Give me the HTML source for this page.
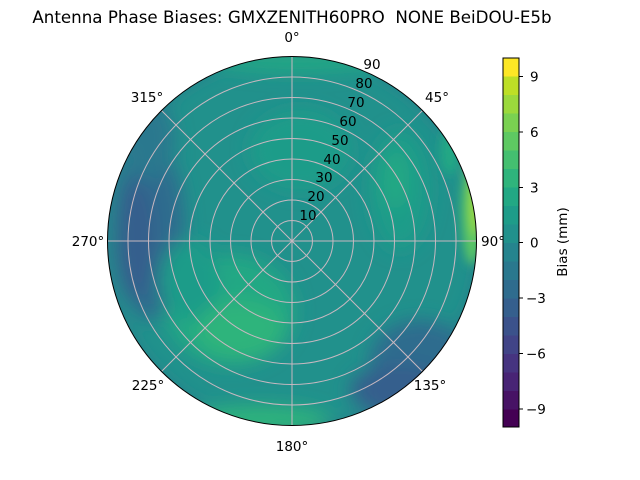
<!DOCTYPE html>
<html><head><meta charset="utf-8"><style>
html,body{margin:0;padding:0;background:#fff;}
svg{display:block;font-family:"DejaVu Sans","Liberation Sans",sans-serif;}
</style></head><body>
<svg width="640" height="480" viewBox="0 0 640 480" xmlns="http://www.w3.org/2000/svg">
<defs>
<clipPath id="c"><circle cx="292" cy="241" r="184.5"/></clipPath>
<filter id="b" x="-50%" y="-50%" width="200%" height="200%"><feGaussianBlur stdDeviation="9"/></filter>
<filter id="b2" x="-50%" y="-50%" width="200%" height="200%"><feGaussianBlur stdDeviation="5"/></filter>
</defs>
<text x="292" y="23" font-size="16.7" text-anchor="middle" xml:space="preserve">Antenna Phase Biases: GMXZENITH60PRO  NONE BeiDOU-E5b</text>
<g clip-path="url(#c)">
<rect x="100" y="50" width="390" height="390" fill="#21918c"/>
<g filter="url(#b)">
<circle cx="292" cy="241" r="200" fill="none" stroke="#2a788e" stroke-width="22"/>
<ellipse cx="150" cy="230" rx="35" ry="90" fill="#2f6c8e"/>
<ellipse cx="135" cy="240" rx="20" ry="60" fill="#355f8d"/>
<ellipse cx="420" cy="360" rx="50" ry="40" fill="#2f6c8e"/>
<ellipse cx="400" cy="390" rx="50" ry="25" fill="#355f8d"/>
<ellipse cx="230" cy="310" rx="65" ry="55" fill="#22a884"/>
<ellipse cx="240" cy="330" rx="45" ry="30" fill="#2fb47c"/>
<ellipse cx="190" cy="280" rx="30" ry="40" fill="#1e9c89"/>
<ellipse cx="400" cy="190" rx="30" ry="60" fill="#1e9c89"/>
<ellipse cx="395" cy="180" rx="15" ry="30" fill="#22a884"/>
<ellipse cx="300" cy="150" rx="50" ry="40" fill="#1e9c89"/>
<ellipse cx="300" cy="60" rx="90" ry="12" fill="#22a884"/>
<ellipse cx="260" cy="420" rx="70" ry="14" fill="#2fb47c"/>
<ellipse cx="150" cy="140" rx="25" ry="40" fill="#2a788e"/>
</g>
<g filter="url(#b2)">
<ellipse cx="472" cy="210" rx="10" ry="55" fill="#5ec962"/>
<ellipse cx="476" cy="205" rx="6" ry="30" fill="#9bd93c"/>
<ellipse cx="450" cy="150" rx="10" ry="25" fill="#22a884"/>
</g>
</g>
<g fill="none" stroke="#c8b8c0" stroke-width="1">
<circle cx="292" cy="241" r="20.5"/><circle cx="292" cy="241" r="41"/><circle cx="292" cy="241" r="61.5"/>
<circle cx="292" cy="241" r="82"/><circle cx="292" cy="241" r="102.5"/><circle cx="292" cy="241" r="123"/>
<circle cx="292" cy="241" r="143.5"/><circle cx="292" cy="241" r="164"/>
<line x1="292" y1="56.5" x2="292" y2="425.5"/><line x1="107.5" y1="241" x2="476.5" y2="241"/>
<line x1="161.5" y1="110.5" x2="422.5" y2="371.5"/><line x1="422.5" y1="110.5" x2="161.5" y2="371.5"/>
</g>
<circle cx="292" cy="241" r="184.5" fill="none" stroke="#000" stroke-width="1"/>
<g font-size="13.5" text-anchor="middle">
<text x="308" y="220">10</text><text x="316" y="201">20</text><text x="324" y="182">30</text>
<text x="332" y="164">40</text><text x="340" y="145">50</text><text x="348" y="126">60</text>
<text x="356" y="107">70</text><text x="364" y="88">80</text><text x="372" y="69">90</text>
<text x="292" y="42">0°</text><text x="437" y="102">45°</text><text x="493" y="246">90°</text>
<text x="430" y="390">135°</text><text x="292" y="451">180°</text><text x="148" y="390">225°</text>
<text x="88" y="246">270°</text><text x="147" y="102">315°</text>
</g>
<g>
<rect x="503" y="58.0" width="16" height="18.5" fill="#fde725"/>
<rect x="503" y="76.5" width="16" height="18.5" fill="#bddf26"/>
<rect x="503" y="95.0" width="16" height="18.5" fill="#9bd93c"/>
<rect x="503" y="113.5" width="16" height="18.5" fill="#7ad151"/>
<rect x="503" y="132.0" width="16" height="18.5" fill="#5ec962"/>
<rect x="503" y="150.5" width="16" height="18.5" fill="#44bf70"/>
<rect x="503" y="169.0" width="16" height="18.5" fill="#2fb47c"/>
<rect x="503" y="187.5" width="16" height="18.5" fill="#22a884"/>
<rect x="503" y="206.0" width="16" height="18.5" fill="#1e9c89"/>
<rect x="503" y="224.5" width="16" height="18.5" fill="#21918c"/>
<rect x="503" y="243.0" width="16" height="18.5" fill="#25848e"/>
<rect x="503" y="261.5" width="16" height="18.5" fill="#2a788e"/>
<rect x="503" y="280.0" width="16" height="18.5" fill="#2f6c8e"/>
<rect x="503" y="298.5" width="16" height="18.5" fill="#355f8d"/>
<rect x="503" y="317.0" width="16" height="18.5" fill="#3b528b"/>
<rect x="503" y="335.5" width="16" height="18.5" fill="#414487"/>
<rect x="503" y="354.0" width="16" height="18.5" fill="#463480"/>
<rect x="503" y="372.5" width="16" height="18.5" fill="#482475"/>
<rect x="503" y="391.0" width="16" height="18.5" fill="#471365"/>
<rect x="503" y="409.5" width="16" height="18" fill="#440154"/>
<rect x="503" y="58" width="16" height="369" fill="none" stroke="#000" stroke-width="1"/>
<g stroke="#000"><line x1="519" y1="76.5" x2="523" y2="76.5"/><line x1="519" y1="132" x2="523" y2="132"/>
<line x1="519" y1="187.5" x2="523" y2="187.5"/><line x1="519" y1="242.5" x2="523" y2="242.5"/>
<line x1="519" y1="298" x2="523" y2="298"/><line x1="519" y1="353.5" x2="523" y2="353.5"/>
<line x1="519" y1="409" x2="523" y2="409"/></g>
<g font-size="13.5">
<text x="530" y="81.5">9</text><text x="530" y="137">6</text><text x="530" y="192.5">3</text>
<text x="530" y="247.5">0</text><text x="526" y="303">−3</text><text x="526" y="358.5">−6</text><text x="526" y="414">−9</text>
</g>
<text transform="translate(567,242) rotate(-90)" font-size="13.5" text-anchor="middle">Bias (mm)</text>
</g>
</svg>
</body></html>
